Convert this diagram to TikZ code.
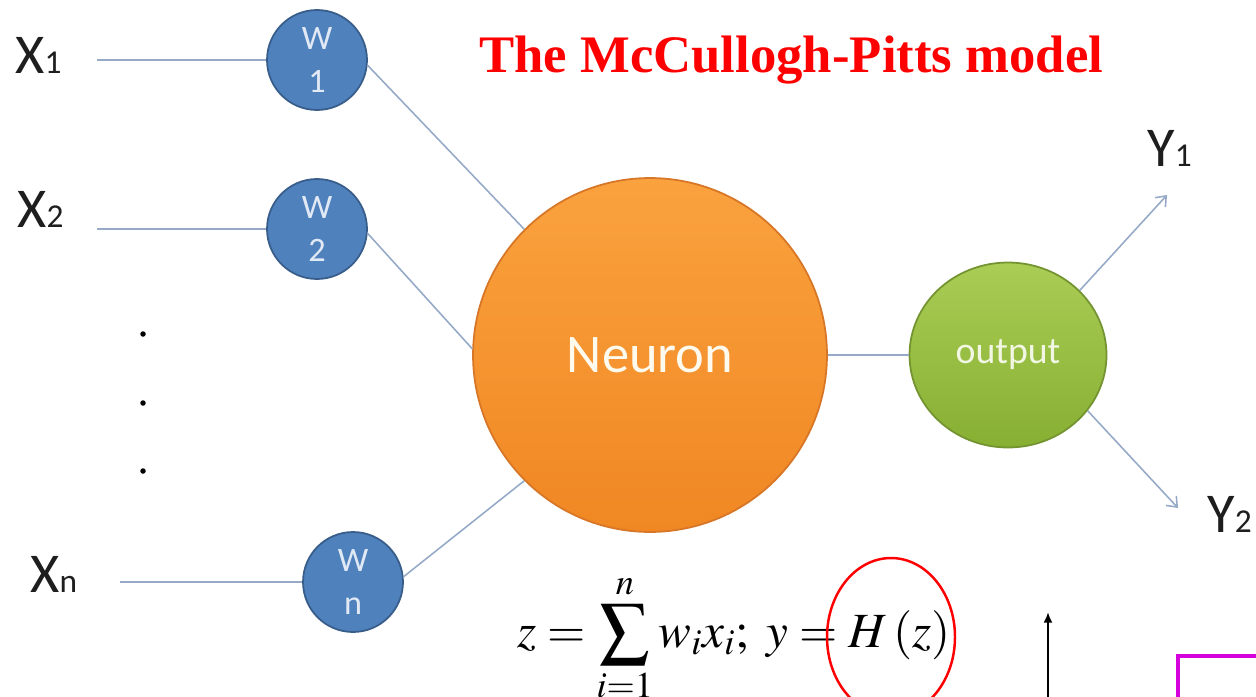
\documentclass[tikz,border=0pt]{standalone}
\usepackage{mathptmx}
\usepackage{fontspec}
\setmainfont{Liberation Serif}
\newfontfamily\calfont{Carlito}
\usetikzlibrary{arrows.meta,shapes.geometric}
\definecolor{lineblue}{RGB}{150,170,200}
\definecolor{wfill}{RGB}{79,129,189}
\definecolor{wdraw}{RGB}{56,93,138}
\definecolor{wtext}{RGB}{225,233,245}
\definecolor{orangetop}{RGB}{250,162,62}
\definecolor{orangebot}{RGB}{240,135,35}
\definecolor{orangedraw}{RGB}{215,118,38}
\definecolor{greentop}{RGB}{170,205,85}
\definecolor{greenbot}{RGB}{135,175,50}
\definecolor{greendraw}{RGB}{115,148,48}
\definecolor{labeltext}{RGB}{30,30,30}
\definecolor{magentabox}{RGB}{214,0,220}
\newcommand{\subdig}[1]{{\fontsize{19}{19}\selectfont #1}}
\begin{document}
\begin{tikzpicture}[x=0.02cm,y=-0.02cm,
  wnode/.style={circle,draw=wdraw,line width=1pt,fill=wfill,minimum size=2cm,inner sep=0pt,
    text=wtext,align=center,font=\calfont\fontsize{19.5}{25}\selectfont},
  conn/.style={draw=lineblue,line width=0.9pt},
  outarrow/.style={conn,-{Straight Barb[length=5pt,width=8pt,line width=0.9pt]}},
  xlabel/.style={anchor=base west,inner sep=0pt,text=labeltext,font=\calfont\fontsize{32}{36}\selectfont},
  dotnode/.style={circle,fill=black,minimum size=0.11cm,inner sep=0pt}
]
\useasboundingbox (0,0) rectangle (1256,696);

% title
\node[anchor=base west,inner sep=0pt,text=red,font=\bfseries\fontsize{30}{34}\selectfont] (title) at (479,72) {The McCullogh-Pitts model};

% inputs
\node[xlabel] (x1) at (15,73) {X\subdig{1}};
\node[xlabel] (x2) at (17,227) {X\subdig{2}};
\node[xlabel] (xn) at (30,592) {X\subdig{n}};
\coordinate (x1e) at (97,60);
\coordinate (x2e) at (97,229);
\coordinate (xne) at (120,582);

% weights
\node[wnode] (w1) at (317,60) {W\\1};
\node[wnode] (w2) at (317,229) {W\\2};
\node[wnode] (wn) at (353,582) {W\\n};

% dots
\node[dotnode] (d1) at (143,334) {};
\node[dotnode] (d2) at (143,403) {};
\node[dotnode] (d3) at (143,471) {};

% neuron
\node[circle,draw=orangedraw,line width=1pt,top color=orangetop,bottom color=orangebot,
  minimum size=7.08cm,inner sep=0pt,text={rgb,255:red,255;green,250;blue,238},
  font=\calfont\fontsize{31}{34}\selectfont] (neuron) at (650,355) {Neuron};

% output
\node[ellipse,draw=greendraw,line width=1pt,top color=greentop,bottom color=greenbot,
  minimum width=3.94cm,minimum height=3.7cm,inner sep=0pt,text={rgb,255:red,242;green,247;blue,228},
  font=\calfont\fontsize{21.5}{24}\selectfont] (out) at (1008,355) {output};

% outputs labels
\node[xlabel] (y1) at (1147,166) {Y\subdig{1}};
\node[xlabel] (y2) at (1207,532) {Y\subdig{2}};
\coordinate (y1e) at (1167,195);
\coordinate (y2e) at (1178,508);

% connectors
\draw[conn] (x1e) -- (w1.west);
\draw[conn] (x2e) -- (w2.west);
\draw[conn] (xne) -- (wn.west);
\draw[conn] (w1.-6) -- (neuron.135);
\draw[conn] (w2.-5) -- (neuron.178);
\draw[conn] (wn.6) -- (neuron.225);
\draw[conn] (neuron.east) -- (out.west);
\draw[outarrow] (out.42) -- (y1e);
\draw[outarrow] (out.-35) -- (y2e);

% formula
\node[anchor=base west,inner sep=0pt,font=\fontsize{28}{34}\selectfont] (formula) at (517,647)
  {$\displaystyle z=\sum_{i=1}^{n} w_i x_i;\ y=H\,(z)$};
\node[ellipse,draw=red,line width=1.4pt,minimum width=2.56cm,minimum height=3.16cm,inner sep=0pt] (hz) at (891,637) {};

% bottom right pieces
\coordinate (axisbot) at (1048,720);
\coordinate (axistop) at (1048,612);
\draw[line width=1.1pt,-{Latex[length=6pt,width=5pt]}] (axisbot) -- (axistop);
\coordinate (boxbl) at (1178,720);
\coordinate (boxtl) at (1178,656);
\coordinate (boxtr) at (1300,656);
\draw[magentabox,line width=2.3pt] (boxbl) -- (boxtl) -- (boxtr);
\end{tikzpicture}
\end{document}
